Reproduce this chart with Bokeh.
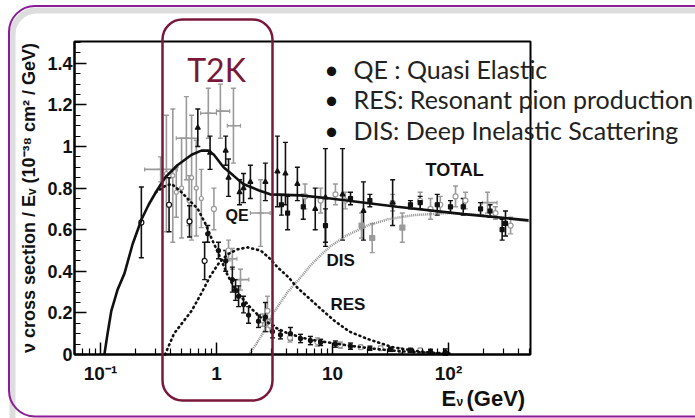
import numpy as np
from bokeh.plotting import figure
from bokeh.models import (FixedTicker, Label, BoxAnnotation, Whisker, ColumnDataSource,
                          TeeHead, Range1d)
from bokeh.embed import file_html
from bokeh.resources import INLINE

# ---------------- data ----------------
# model curves: E in GeV, sigma/E in 1e-38 cm^2/GeV
total_E = [0.108, 0.115, 0.124, 0.14, 0.161, 0.189, 0.226, 0.26, 0.30, 0.36, 0.46, 0.61, 0.74,
           0.85, 0.95, 1.15, 1.4, 1.7, 2.3, 2.9, 5.3, 9.6, 36, 135, 490]
total_v = [0.0, 0.10, 0.21, 0.31, 0.39, 0.53, 0.65, 0.72, 0.78, 0.85, 0.91, 0.96, 0.98,
           0.98, 0.96, 0.90, 0.86, 0.82, 0.79, 0.77, 0.765, 0.75, 0.71, 0.675, 0.645]
qe_E = [0.30, 0.36, 0.41, 0.50, 0.585, 0.69, 0.80, 0.92, 1.05, 1.25, 1.5, 2.0, 2.5, 3.2, 4.0,
        5.5, 7.5, 10, 15, 25, 40, 70, 110]
qe_v = [0.78, 0.81, 0.82, 0.78, 0.74, 0.70, 0.63, 0.55, 0.48, 0.38, 0.30, 0.22, 0.17, 0.13, 0.105,
        0.08, 0.065, 0.055, 0.04, 0.025, 0.015, 0.008, 0.004]
res_E = [0.36, 0.43, 0.52, 0.61, 0.75, 0.89, 1.05, 1.24, 1.5, 1.85, 2.4, 2.9, 3.35, 4.2, 5.0,
         6.3, 7.9, 10.5, 14, 20, 33, 55, 90]
res_v = [0.0, 0.10, 0.16, 0.21, 0.30, 0.38, 0.44, 0.48, 0.505, 0.515, 0.50, 0.46, 0.42, 0.37, 0.32,
         0.27, 0.22, 0.16, 0.11, 0.075, 0.035, 0.015, 0.003]
dis_E = [1.9, 2.2, 2.5, 3.1, 4.1, 5.3, 6.5, 8, 9.6, 13, 20, 30, 50, 100, 200, 500]
dis_v = [0.0, 0.05, 0.10, 0.20, 0.30, 0.37, 0.43, 0.48, 0.52, 0.57, 0.62, 0.65, 0.67, 0.68, 0.67, 0.64]

# black data points
nu_open_E = [0.225, 0.39, 0.585, 0.79]
nu_open_v = [0.635, 0.72, 0.64, 0.45]
nu_open_err = [0.17, 0.13, 0.075, 0.09]

nu_tri_E = [0.69, 0.88, 1.2, 1.27, 1.58, 1.71, 1.96, 2.64, 3.35, 3.93, 4.98, 7.1, 8.7, 12.2, 18.5, 33]
nu_tri_v = [1.09, 0.97, 0.98, 0.85, 0.78, 0.80, 0.83, 0.83, 0.88, 0.87, 0.82, 0.70, 0.755, 0.77, 0.69, 0.73]
nu_tri_err = [0.09, 0.08, 0.07, 0.09, 0.06, 0.07, 0.08, 0.09, 0.17, 0.15, 0.08, 0.10, 0.235, 0.22, 0.14, 0.11]

nu_dot_E = [3.63, 4.1, 5.6, 8.7, 14.3, 21, 47, 57, 80, 104, 134, 189, 228, 290, 310]
nu_dot_v = [0.72, 0.68, 0.71, 0.62, 0.75, 0.74, 0.72, 0.73, 0.72, 0.71, 0.71, 0.70, 0.69, 0.60, 0.63]
nu_dot_err = [0.05, 0.08, 0.06, 0.08, 0.03, 0.03, 0.02, 0.03, 0.05, 0.03, 0.04, 0.03, 0.03, 0.05, 0.06]

qe_dat_E = [0.84, 1.04, 1.2, 1.37, 1.46, 1.55, 1.71, 1.89, 2.3, 2.64, 3.04, 3.56, 4.34, 5.3, 6.45,
            7.9, 10.6, 14.3, 21, 31.6, 47, 70, 94]
qe_dat_v = [0.58, 0.50, 0.45, 0.36, 0.31, 0.28, 0.24, 0.19, 0.16, 0.18, 0.11, 0.095, 0.10, 0.077, 0.067,
            0.058, 0.05, 0.04, 0.03, 0.025, 0.02, 0.015, 0.012]
qe_dat_err = [0.04, 0.04, 0.05, 0.06, 0.05, 0.05, 0.04, 0.04, 0.03, 0.07, 0.03, 0.02, 0.03, 0.02, 0.02,
              0.015, 0.015, 0.015, 0.01, 0.01, 0.01, 0.01, 0.015]

# grey data points
gh_E = [0.33, 0.55, 0.85, 1.08, 1.40, 1.37, 1.61, 2.4, 217]
gh_v = [0.89, 1.04, 1.16, 1.17, 1.10, 0.46, 0.36, 0.68, 0.73]
gh_err = [0.06, 0.20, 0.12, 0.13, 0.18, 0.05, 0.05, 0.16, 0.05]
gh_Elo = [0.24, 0.45, 0.73, 1.0, 1.24, 1.25, 1.37, 1.96, 196]
gh_Ehi = [0.46, 0.69, 1.0, 1.3, 1.61, 1.5, 1.9, 2.9, 262]

glo_E = [0.37, 0.42, 0.45, 0.50, 0.58, 0.61, 0.67, 0.74]
glo_v = [0.87, 0.86, 0.78, 0.80, 0.74, 0.85, 0.80, 0.75]
glo_err = [0.28, 0.32, 0.12, 0.24, 0.12, 0.30, 0.23, 0.14]

gqe_E = [0.95, 1.27, 2.5, 2.75, 2.9, 4.3, 7.4, 11.7, 17.5, 26, 38.6, 57]
gqe_v = [0.70, 0.50, 0.165, 0.21, 0.14, 0.08, 0.06, 0.045, 0.035, 0.03, 0.02, 0.02]
gqe_err = [0.10, 0.05, 0.03, 0.07, 0.03, 0.02, 0.02, 0.015, 0.01, 0.01, 0.01, 0.01]

gtot_E = [5.8, 7.9, 10.6, 12.9, 33, 57, 70, 85, 115, 140, 254, 343]
gtot_v = [0.76, 0.74, 0.77, 0.74, 0.73, 0.74, 0.70, 0.72, 0.76, 0.74, 0.68, 0.62]
gtot_err = [0.06, 0.06, 0.05, 0.04, 0.04, 0.04, 0.05, 0.04, 0.05, 0.04, 0.03, 0.04]

gsq_E = [17.8, 22, 40]
gsq_v = [0.62, 0.56, 0.61]
gsq_err = [0.06, 0.07, 0.07]

x_ticks = [0.1, 1, 10, 100]
x_tick_labels = ["10\u207b\u00b9", "1", "10", "10\u00b2"]
y_ticks = [0, 0.2, 0.4, 0.6, 0.8, 1.0, 1.2, 1.4]
y_tick_labels = ["0", "0.2", "0.4", "0.6", "0.8", "1", "1.2", "1.4"]

bullets = ["QE : Quasi Elastic", "RES: Resonant pion production", "DIS: Deep Inelastic Scattering"]

# ---------------- layout helpers (page pixel -> data) ----------------
def ex(px):
    return 10 ** ((px - 216) / 116.0)

def vy(py):
    return (354 - py) / 208.0

GREY = "#9a9a9a"
BLACK = "#111111"
MAROON = "#7a1838"
W, H = 695, 418
X_LO, X_HI = ex(74), ex(530)
Y_LO, Y_HI = 0.0, vy(41)
TXT_DY = -8   # labels render a little low; lift them

# the frame covers the whole canvas; the plot box is drawn inside it
p = figure(width=W, height=H, x_axis_type="log",
           x_range=Range1d(ex(0), ex(W)), y_range=Range1d(vy(H), vy(0)),
           output_backend="svg", toolbar_location=None,
           min_border_left=0, min_border_right=0, min_border_top=0, min_border_bottom=0)
p.xgrid.visible = False
p.ygrid.visible = False
p.outline_line_color = None
p.background_fill_color = "white"
p.border_fill_color = "white"

minor_x = []
for dec in [0.01, 0.1, 1, 10, 100]:
    for k in range(2, 10):
        v_ = dec * k
        if X_LO <= v_ <= X_HI:
            minor_x.append(v_)
p.xaxis.ticker = FixedTicker(ticks=x_ticks, minor_ticks=minor_x)
p.xaxis.major_label_overrides = dict(zip(x_ticks, x_tick_labels))
p.yaxis.ticker = FixedTicker(ticks=y_ticks, minor_ticks=[i * 0.05 for i in range(0, 31)])
p.yaxis.major_label_overrides = dict(zip(y_ticks, y_tick_labels))
p.xaxis.fixed_location = Y_LO
p.xaxis.bounds = (X_LO, X_HI)
p.yaxis.fixed_location = X_LO
p.yaxis.bounds = (Y_LO, Y_HI)

for ax in (p.xaxis, p.yaxis):
    ax.axis_line_width = 2
    ax.major_tick_in = 12
    ax.major_tick_out = 0
    ax.minor_tick_in = 6
    ax.minor_tick_out = 0
    ax.major_tick_line_width = 1.5
    ax.minor_tick_line_width = 1.2
    ax.major_label_text_font = "Liberation Sans"
    ax.major_label_text_font_style = "bold"
    ax.major_label_text_color = BLACK
p.xaxis.major_label_text_font_size = "19px"
p.yaxis.major_label_text_font_size = "18px"
p.xaxis.major_label_standoff = 8
p.yaxis.major_label_standoff = 2
p.yaxis.axis_label = "\u03bd cross section / E\u1d65 (10\u207b\u00b3\u2078 cm\u00b2 / GeV)"
p.yaxis.axis_label_text_font = "Liberation Sans"
p.yaxis.axis_label_text_font_style = "bold"
p.yaxis.axis_label_text_font_size = "18px"
p.yaxis.axis_label_standoff = 5
p.yaxis.axis_label_text_color = BLACK

# ---------------- slide decorations ----------------
p.add_layout(BoxAnnotation(left=ex(12), right=ex(1200), top=vy(10), bottom=vy(440),
                           border_radius=24, fill_alpha=0, line_color="#d4d4d4", line_width=6,
                           line_alpha=0.8))
p.add_layout(BoxAnnotation(left=ex(8.5), right=ex(1200), top=vy(5.5), bottom=vy(416),
                           border_radius=26, fill_alpha=0, line_color="#8a1c96", line_width=2,
                           line_alpha=1))

# plot box
p.add_layout(BoxAnnotation(left=X_LO, right=X_HI, bottom=Y_LO, top=Y_HI, fill_alpha=0,
                           line_color="black", line_width=2, line_alpha=1))

# ---------------- error bars & points ----------------
def vbars(E, v, err, color, marker, fill, size):
    lo = [a - b for a, b in zip(v, err)]
    hi = [a + b for a, b in zip(v, err)]
    src = ColumnDataSource(dict(x=E, y=v, lo=lo, hi=hi))
    p.add_layout(Whisker(source=src, base="x", lower="lo", upper="hi", dimension="height",
                         line_color=color, line_width=1.6,
                         upper_head=TeeHead(size=5, line_color=color, line_width=1.4),
                         lower_head=TeeHead(size=5, line_color=color, line_width=1.4)))
    p.scatter("x", "y", source=src, marker=marker, size=size, line_color=color,
              fill_color=fill, line_width=1.2)

def hbars(E, v, Elo, Ehi, color):
    src = ColumnDataSource(dict(y=v, lo=Elo, hi=Ehi))
    p.add_layout(Whisker(source=src, base="y", lower="lo", upper="hi", dimension="width",
                         line_color=color, line_width=1.6,
                         upper_head=TeeHead(size=4, line_color=color, line_width=1.2),
                         lower_head=TeeHead(size=4, line_color=color, line_width=1.2)))

# grey sets
hbars(gh_E, gh_v, gh_Elo, gh_Ehi, GREY)
vbars(gh_E, gh_v, gh_err, GREY, "cross", GREY, 6)
vbars(glo_E, glo_v, glo_err, GREY, "circle", "white", 4)
vbars(gqe_E, gqe_v, gqe_err, GREY, "circle", "white", 5)
vbars(gtot_E, gtot_v, gtot_err, GREY, "circle", "white", 5)
vbars(gsq_E, gsq_v, gsq_err, GREY, "square", GREY, 5)

# black sets
vbars(nu_open_E, nu_open_v, nu_open_err, BLACK, "circle", "white", 5)
vbars(nu_tri_E, nu_tri_v, nu_tri_err, BLACK, "triangle", BLACK, 5)
vbars(nu_dot_E, nu_dot_v, nu_dot_err, BLACK, "square", BLACK, 4)
vbars(qe_dat_E, qe_dat_v, qe_dat_err, BLACK, "circle", BLACK, 4)

# ---------------- model curves ----------------
p.line(dis_E, dis_v, line_color="#8a8a8a", line_width=2.5, line_dash="1 1")
p.line(res_E, res_v, line_color=BLACK, line_width=2.6, line_dash="1 4", line_cap="round")
p.line(qe_E, qe_v, line_color=BLACK, line_width=2.6, line_dash="1 4", line_cap="round")
p.line(total_E, total_v, line_color=BLACK, line_width=2.6)

# ---------------- texts ----------------
def lab(text, px, py, size, font="Liberation Sans", style="bold", color=BLACK, align="left"):
    p.add_layout(Label(x=ex(px), y=vy(py + TXT_DY), text=text, text_font=font,
                       text_font_style=style, text_font_size=size, text_color=color,
                       text_align=align, text_baseline="alphabetic"))

lab("TOTAL", 425, 177, "18px")
lab("QE", 225, 223, "16px")
lab("DIS", 326, 268, "17px")
lab("RES", 330, 312, "17px")

# x axis label E_nu (GeV)
lab("E", 441, 406, "22px")
lab("\u03bd", 456, 409, "12px")
lab("(GeV)", 466, 406, "22px")

# T2K box and text
p.add_layout(BoxAnnotation(left=ex(162), right=ex(272), top=vy(19), bottom=vy(400),
                           border_radius=20, fill_alpha=0, line_color=MAROON, line_width=2.5,
                           line_alpha=1))
lab("T2K", 216, 77, "32px", font="Lato", style="normal", color=MAROON, align="center")

# bullets
for i, txt in enumerate(bullets):
    base = [76, 106, 137][i]
    lab("\u2022", 331, base, "25px", font="Lato", style="normal", color="#111111", align="center")
    lab(txt, 353, base, "25px", font="Lato", style="normal", color="#222222")

open("out.html", "w").write(file_html(p, INLINE))
